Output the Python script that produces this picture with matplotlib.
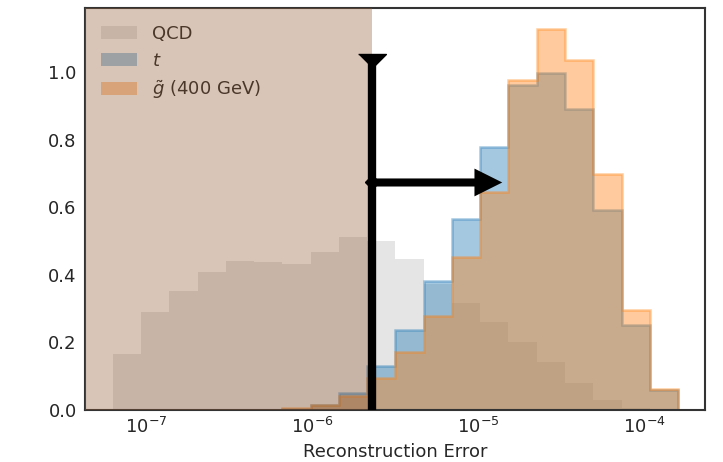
import numpy as np
import matplotlib.pyplot as plt

# log-spaced bins shared by all three samples
log_lo, log_hi = -7.199, -3.795
n_bins = 20
edges = np.logspace(log_lo, log_hi, n_bins + 1)
centers = np.sqrt(edges[:-1] * edges[1:])

# normalised counts per bin
qcd = [0.165, 0.291, 0.353, 0.408, 0.442, 0.437, 0.433, 0.469, 0.513, 0.501,
       0.446, 0.372, 0.316, 0.261, 0.201, 0.142, 0.079, 0.030, 0.005, 0.0]
top = [0.0, 0.0, 0.0, 0.0, 0.0, 0.0, 0.003, 0.015, 0.050, 0.129,
       0.237, 0.382, 0.567, 0.780, 0.963, 0.999, 0.893, 0.592, 0.252, 0.058]
gluino = [0.0, 0.0, 0.0, 0.0, 0.0, 0.0, 0.005, 0.015, 0.040, 0.094,
          0.173, 0.278, 0.452, 0.647, 0.977, 1.130, 1.036, 0.699, 0.296, 0.062]

# cut on the reconstruction error and the "signal side" arrow
cut = 2.31e-6
cut_height = 1.054
arrow_y = 0.674
arrow_end = 1.40e-5

plt.rcParams.update({
    'font.family': 'DejaVu Sans',
    'font.size': 13,
    'text.color': '.15',
    'axes.labelcolor': '.15',
    'xtick.color': '.15',
    'ytick.color': '.15',
    'axes.edgecolor': '.2',
    'axes.linewidth': 1.5,
})

fig, ax = plt.subplots(figsize=(7.23, 4.62), dpi=100)
fig.subplots_adjust(left=0.1176, right=0.975, bottom=0.1126, top=0.982)

ax.hist(centers, bins=edges, weights=qcd, histtype='stepfilled',
        color='gray', alpha=0.2, lw=0, label='QCD')
ax.hist(centers, bins=edges, weights=top, histtype='stepfilled',
        facecolor='C0', edgecolor='C0', alpha=0.4, lw=1.8, label='$t$')
ax.hist(centers, bins=edges, weights=gluino, histtype='stepfilled',
        facecolor='C1', edgecolor='C1', alpha=0.4, lw=1.8,
        label=r'$\tilde{g}$ (400 GeV)')

ax.set_xscale('log')
xlo, xhi = 10 ** -7.367, 10 ** -3.633
ax.set_xlim(xlo, xhi)
ax.set_ylim(0, 1.19)
ax.set_yticks(np.arange(0, 1.01, 0.2))
ax.tick_params(which='both', length=0, labelsize=13)
ax.tick_params(axis='y', pad=6)
ax.tick_params(axis='x', pad=5)
ax.set_xlabel('Reconstruction Error', fontsize=13)

leg = ax.legend(loc='upper left', frameon=False, fontsize=13)
for h in leg.legend_handles:
    h.set_linewidth(0)

# rejected region, laid over everything left of the cut
ax.axvspan(xlo, cut, color='#905934', alpha=0.35, lw=0, zorder=6)

# cut line with its cap and the arrow toward the kept region
ax.plot([cut, cut], [0, cut_height], color='k', lw=6,
        solid_capstyle='butt', zorder=7)
ax.plot([cut], [cut_height], marker=[(-1, 0), (1, 0), (0, -1)],
        ms=20, color='k', zorder=7)
ax.plot([cut], [arrow_y], 'D', ms=7, color='k', zorder=7)
ax.annotate('', xy=(arrow_end, arrow_y), xytext=(cut, arrow_y),
            arrowprops=dict(arrowstyle='simple,head_length=1.0,head_width=1.0,tail_width=0.29',
                            mutation_scale=20, color='k', lw=0,
                            shrinkA=0, shrinkB=0),
            zorder=7)

fig.savefig('out.png', dpi=100)
